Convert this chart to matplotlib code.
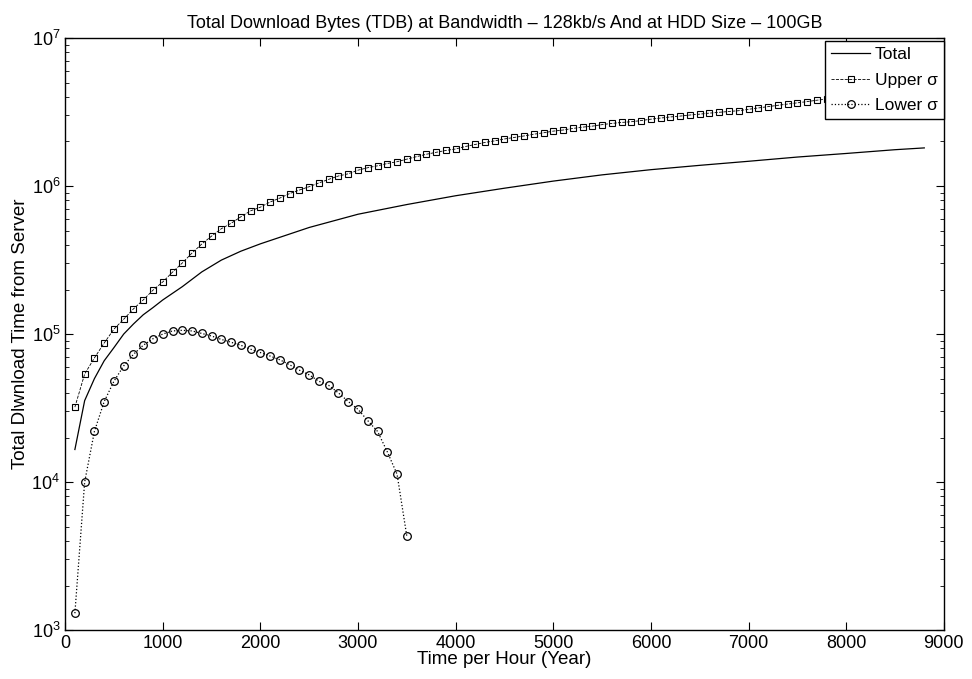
import matplotlib
matplotlib.use('Agg')
import matplotlib.pyplot as plt
import numpy as np

plt.rcParams['font.family'] = ['Liberation Sans', 'DejaVu Sans']
plt.rcParams['mathtext.fontset'] = 'custom'
plt.rcParams['mathtext.rm'] = 'Liberation Sans'

# total (solid line)
total_x = [100, 200, 300, 400, 500, 600, 700, 800, 900, 1000, 1200, 1400, 1600,
           1800, 2000, 2500, 3000, 3500, 4000, 4500, 5000, 5500, 6000, 6500,
           7000, 7500, 8000, 8500, 8800]
total_y = [1.66e4, 3.55e4, 5.0e4, 6.6e4, 8.1e4, 1.0e5, 1.17e5, 1.35e5, 1.51e5,
           1.70e5, 2.09e5, 2.63e5, 3.16e5, 3.63e5, 4.07e5, 5.25e5, 6.45e5, 7.5e5,
           8.6e5, 9.67e5, 1.08e6, 1.19e6, 1.29e6, 1.38e6, 1.47e6, 1.57e6, 1.66e6,
           1.76e6, 1.81e6]

# upper sigma, every 100 from 100 to 8800
upper_x = list(range(100, 8900, 100))
upper_y = [3.21e4, 5.37e4, 6.9e4, 8.7e4, 1.08e5, 1.26e5, 1.48e5, 1.70e5, 1.98e5, 2.25e5,
           2.62e5, 3.02e5, 3.53e5, 4.06e5, 4.59e5, 5.15e5, 5.6e5, 6.2e5, 6.8e5, 7.2e5,
           7.8e5, 8.3e5, 8.9e5, 9.4e5, 9.9e5, 1.05e6, 1.11e6, 1.17e6, 1.21e6, 1.28e6,
           1.33e6, 1.37e6, 1.42e6, 1.46e6, 1.52e6, 1.58e6, 1.64e6, 1.69e6, 1.74e6, 1.78e6,
           1.85e6, 1.91e6, 1.97e6, 2.02e6, 2.08e6, 2.13e6, 2.18e6, 2.24e6, 2.29e6, 2.35e6,
           2.39e6, 2.45e6, 2.50e6, 2.54e6, 2.60e6, 2.65e6, 2.69e6, 2.72e6, 2.77e6, 2.83e6,
           2.88e6, 2.93e6, 2.97e6, 3.02e6, 3.06e6, 3.11e6, 3.15e6, 3.19e6, 3.23e6, 3.30e6,
           3.37e6, 3.44e6, 3.51e6, 3.58e6, 3.65e6, 3.72e6, 3.80e6, 3.87e6, 3.94e6, 4.01e6,
           4.08e6, 4.15e6, 4.22e6, 4.29e6, 4.36e6, 4.43e6, 4.50e6, 4.57e6]

# lower sigma, every 100 from 100 to 3500
lower_x = list(range(100, 3600, 100))
lower_y = [1.3e3, 1.0e4, 2.2e4, 3.5e4, 4.8e4, 6.1e4, 7.3e4, 8.4e4, 9.3e4, 1.0e5,
           1.05e5, 1.06e5, 1.05e5, 1.01e5, 9.7e4, 9.2e4, 8.8e4, 8.4e4, 7.9e4, 7.5e4,
           7.1e4, 6.7e4, 6.2e4, 5.7e4, 5.3e4, 4.8e4, 4.5e4, 4.0e4, 3.5e4, 3.1e4,
           2.6e4, 2.2e4, 1.6e4, 1.13e4, 4.3e3]

fig = plt.figure(figsize=(9.72, 6.79), dpi=100)
ax = fig.add_axes([0.067, 0.072, 0.904, 0.872])

ax.plot(total_x, total_y, '-', color='black', lw=0.9, label='Total')
ax.plot(upper_x, upper_y, '--', color='black', lw=0.6, marker='s', ms=5,
        mfc='none', mew=0.8, label='Upper σ')
ax.plot(lower_x, lower_y, ':', color='black', lw=0.9, marker='o', ms=5.5,
        mfc='none', mew=0.9, label='Lower σ')

ax.set_yscale('log')
ax.set_xlim(0, 9000)
ax.set_ylim(1e3, 1e7)
ax.set_xticks(np.arange(0, 9001, 1000))
ax.tick_params(which='both', direction='in', top=True, right=True, labelsize=13)
ax.tick_params(which='major', length=6)
ax.tick_params(which='minor', length=3)
for s in ax.spines.values():
    s.set_linewidth(1.0)

ax.set_title('Total Download Bytes (TDB) at Bandwidth – 128kb/s And at HDD Size – 100GB',
             fontsize=13, pad=7)
ax.set_xlabel('Time per Hour (Year)', fontsize=13.5, labelpad=-1)
ax.set_ylabel('Total Dlwnload Time from Server', fontsize=13.5, labelpad=2)

leg = ax.legend(loc='upper right', bbox_to_anchor=(1.0, 0.995), fontsize=12.5,
                frameon=True, fancybox=False, framealpha=1,
                handlelength=2.2, borderpad=0.35, labelspacing=0.6,
                handletextpad=0.3, borderaxespad=0.0)
leg.get_frame().set_edgecolor('black')
leg.get_frame().set_linewidth(1.0)

fig.savefig('out.png', dpi=100)
